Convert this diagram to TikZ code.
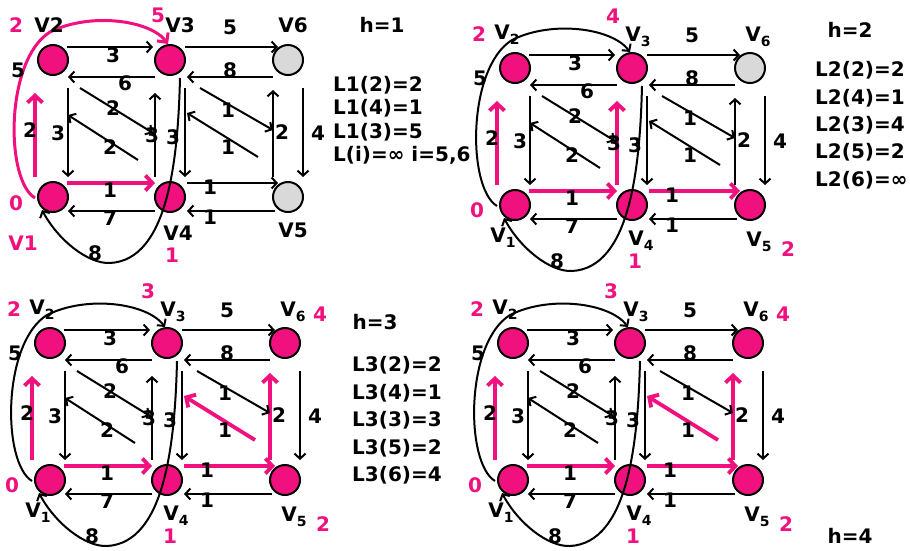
\documentclass[tikz,border=0pt]{standalone}
\usepackage{fontspec}
\setmainfont{DejaVu Sans}
\usetikzlibrary{arrows.meta}
\definecolor{mypink}{HTML}{F0117F}
\definecolor{mygray}{HTML}{D9D9D9}
\newcommand{\lblfont}{\bfseries\fontsize{20}{22}\selectfont}
\newcommand{\Vs}[1]{V\raisebox{-0.45ex}{\fontsize{14}{14}\selectfont #1}}
\newcommand{\infy}{∞}
\tikzset{
  pnode/.style={circle, draw=black, line width=2pt, minimum size=30pt, inner sep=0pt, fill=mypink},
  gnode/.style={pnode, fill=mygray},
  eb/.style={draw=black, line width=2pt, -{Straight Barb[length=5pt,width=11pt]}},
  ep/.style={draw=mypink, line width=3.8pt, -{Straight Barb[length=7pt,width=15pt]}},
  lbl/.style={font=\lblfont, inner sep=0pt},
  plbl/.style={lbl, text=mypink},
  llist/.style={font=\lblfont, inner sep=0pt, anchor=west},
  n5/.style={pnode}, n6/.style={pnode},
  e43/.style={eb}, e45/.style={eb}, e53/.style={eb}, e56/.style={eb},
  c13/.style={eb}
}
\newcommand{\drawgraph}{%
  \node[pnode] (V2) at (0,0) {};
  \node[pnode] (V3) at (117,0) {};
  \node[n6] (V6) at (235,0) {};
  \node[pnode] (V1) at (0,137) {};
  \node[pnode] (V4) at (117,137) {};
  \node[n5] (V5) at (235,137) {};
  % horizontal
  \draw[eb] ([shift={(14,-13)}]V2.center) -- ([shift={(-17,-13)}]V3.center);
  \draw[eb] ([shift={(-15,17)}]V3.center) -- ([shift={(15,17)}]V2.center);
  \draw[eb] ([shift={(15,-13)}]V3.center) -- ([shift={(-10,-13)}]V6.center);
  \draw[eb] ([shift={(-15,17)}]V6.center) -- ([shift={(17,17)}]V3.center);
  \draw[ep] ([shift={(14,-14)}]V1.center) -- ([shift={(-15,-14)}]V4.center);
  \draw[eb] ([shift={(-15,14)}]V4.center) -- ([shift={(15,14)}]V1.center);
  \draw[e45] ([shift={(17,-14)}]V4.center) -- ([shift={(-10,-14)}]V5.center);
  \draw[eb] ([shift={(-13,14)}]V5.center) -- ([shift={(17,14)}]V4.center);
  % vertical
  \draw[ep] ([shift={(-18,-20)}]V1.center) -- ([shift={(-18,33)}]V2.center);
  \draw[eb] ([shift={(15,28)}]V2.center) -- ([shift={(15,-20)}]V1.center);
  \draw[e43] ([shift={(-15,-20)}]V4.center) -- ([shift={(-15,33)}]V3.center);
  \draw[eb] ([shift={(15,28)}]V3.center) -- ([shift={(15,-20)}]V4.center);
  \draw[eb] ([shift={(15,28)}]V6.center) -- ([shift={(15,-20)}]V5.center);
  \draw[e56] ([shift={(-15,-20)}]V5.center) -- ([shift={(-15,30)}]V6.center);
  % diagonals
  \draw[eb] ([shift={(27,28)}]V2.center) -- ([shift={(-17,-64)}]V4.center);
  \draw[eb] ([shift={(-32,-37)}]V4.center) -- ([shift={(15,55)}]V2.center);
  \draw[eb] ([shift={(30,28)}]V3.center) -- ([shift={(-15,-67)}]V5.center);
  \draw[e53] ([shift={(-30,-40)}]V5.center) -- ([shift={(17,53)}]V3.center);
  % curves
  \draw[c13] ([shift={(-18,1)}]V1.center) .. controls (-48,120) and (-48,0) .. (-3,-28)
      .. controls (37,-48) and (97,-40) .. ([shift={(-2,-16)}]V3.center);
  \draw[eb] ([shift={(10,18)}]V3.center) .. controls (125,100) and (115,200) .. (57,203)
      .. controls (35,204) and (5,180) .. ([shift={(-11,13)}]V1.center);
  % edge labels
  \node[lbl] (w23) at (60,-5) {3};
  \node[lbl] (w32) at (72,23) {6};
  \node[lbl] (w36) at (177,-33) {5};
  \node[lbl] (w63) at (177,10) {8};
  \node[lbl] (w14) at (57,130) {1};
  \node[lbl] (w41) at (57,158) {7};
  \node[lbl] (w45) at (157,127) {1};
  \node[lbl] (w54) at (157,157) {1};
  \node[lbl] (w12) at (-23,70) {2};
  \node[lbl] (w21) at (5,73) {3};
  \node[lbl] (w43) at (99,75) {3};
  \node[lbl] (w34) at (120,77) {3};
  \node[lbl] (w65) at (265,73) {4};
  \node[lbl] (w56) at (229,72) {2};
  \node[lbl] (w24) at (60,48) {2};
  \node[lbl] (w42) at (57,87) {2};
  \node[lbl] (w35) at (175,50) {1};
  \node[lbl] (w53) at (175,87) {1};
  \node[lbl] (w13) at (-35,10) {5};
  \node[lbl] (w31) at (42,193) {8};
}
\newcommand{\sublabels}[2]{%
  \node[plbl] (d2) at (-36,-34) {2};
  \node[lbl] (t2) at (-8,-33) {\Vs{2}};
  \node[plbl] (d3) at (98,-52) {#1};
  \node[lbl] (t3) at (123,-31) {\Vs{3}};
  \node[lbl] (t6) at (243,-31) {\Vs{6}};
  \node[plbl] (d0) at (-38,142) {0};
  \node[lbl] (t1) at (-12,170) {\Vs{1}};
  \node[lbl] (t4) at (126,173) {\Vs{4}};
  \node[plbl] (d4) at (120,193) {1};
  \node[lbl] (t5) at (244,174) {\Vs{5}};
  \node[plbl] (d5) at (273,181) {2};
  #2
}
\begin{document}
\begin{tikzpicture}[x=1pt,y=-1pt]
\path[use as bounding box, fill=white] (0,0) rectangle (910,550);
% panel 1
\begin{scope}[shift={(53,60)}, n5/.style={gnode}, n6/.style={gnode},
   c13/.style={draw=mypink, line width=3pt, -{Straight Barb[length=7pt,width=14pt]}}]
  \drawgraph
  \node[plbl] (d2) at (-37,-35) {2};
  \node[lbl] (t2) at (-4,-35) {V2};
  \node[plbl] (d3) at (105,-45) {5};
  \node[lbl] (t3) at (127,-35) {V3};
  \node[lbl] (t6) at (240,-35) {V6};
  \node[plbl] (t1) at (-30,183) {V1};
  \node[plbl] (d0) at (-37,143) {0};
  \node[lbl] (t4) at (125,173) {V4};
  \node[plbl] (d4) at (119,195) {1};
  \node[lbl] (t5) at (240,170) {V5};
\end{scope}
\node[lbl] (h1) at (382,25) {h=1};
\node[llist] (l11) at (333,85) {L1(2)=2};
\node[llist] (l12) at (333,108) {L1(4)=1};
\node[llist] (l13) at (333,132) {L1(3)=5};
\node[llist] (l14) at (333,155) {L(i)=\infy{} i=5,6};
% panel 2
\begin{scope}[shift={(515,68)}, n6/.style={gnode}, e43/.style={ep}, e45/.style={ep}]
  \drawgraph
  \sublabels{4}{}
\end{scope}
\node[lbl] (h2) at (850,30) {h=2};
\node[llist] (l21) at (815,70) {L2(2)=2};
\node[llist] (l22) at (815,98) {L2(4)=1};
\node[llist] (l23) at (815,125) {L2(3)=4};
\node[llist] (l24) at (815,152) {L2(5)=2};
\node[llist] (l25) at (815,180) {L2(6)=\infy};
% panel 3
\begin{scope}[shift={(50,343)}, e45/.style={ep}, e53/.style={ep}, e56/.style={ep}]
  \drawgraph
  \sublabels{3}{\node[plbl] (d6) at (270,-29) {4};}
\end{scope}
\node[lbl] (h3) at (375,322) {h=3};
\node[llist] (l31) at (352,365) {L3(2)=2};
\node[llist] (l32) at (352,393) {L3(4)=1};
\node[llist] (l33) at (352,420) {L3(3)=3};
\node[llist] (l34) at (352,448) {L3(5)=2};
\node[llist] (l35) at (352,475) {L3(6)=4};
% panel 4
\begin{scope}[shift={(513,343)}, e45/.style={ep}, e53/.style={ep}, e56/.style={ep}]
  \drawgraph
  \sublabels{3}{\node[plbl] (d6) at (270,-29) {4};}
\end{scope}
\node[lbl] (h4) at (850,536) {h=4};
\end{tikzpicture}
\end{document}
